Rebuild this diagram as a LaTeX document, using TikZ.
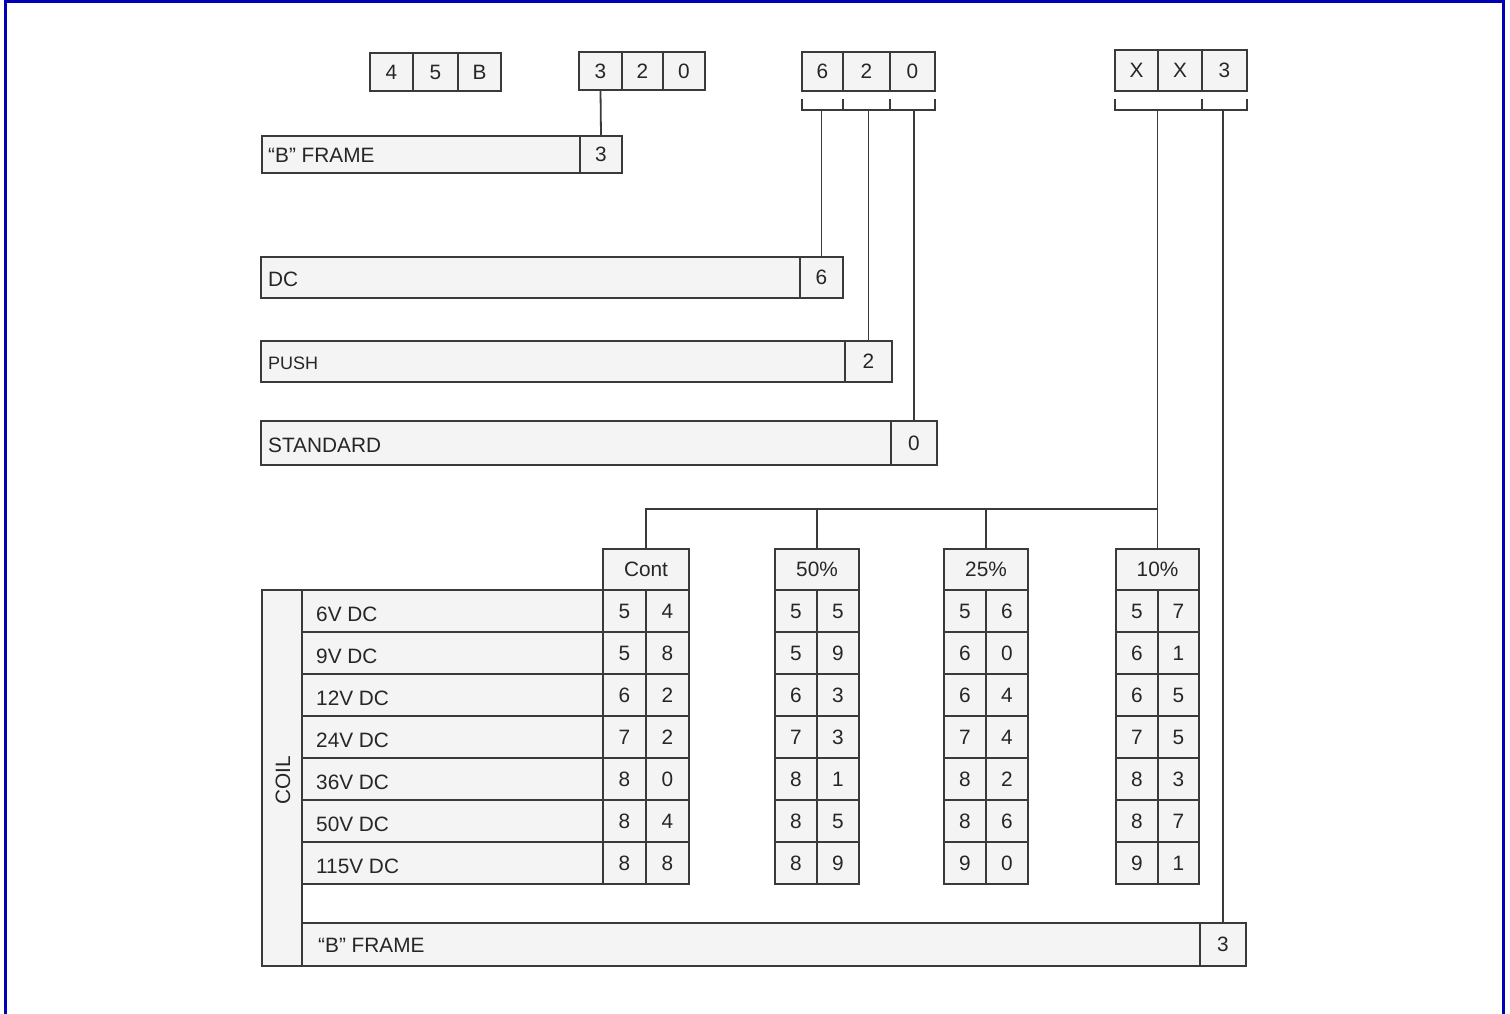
\documentclass[tikz,border=0pt]{standalone}
\usepackage{fontspec}
\setmainfont{Liberation Sans}
\usetikzlibrary{calc}
\definecolor{ink}{HTML}{3A3A3A}
\definecolor{txt}{HTML}{262626}
\definecolor{paper}{HTML}{F4F4F4}
\definecolor{frameblue}{HTML}{0000B4}
\newcommand\mkbox[6]{\node[cell, minimum width={(#4)-(#2)}, minimum height={(#5)-(#3)}] (#1) at ({((#2)+(#4))/2},{((#3)+(#5))/2}) {#6};}
\tikzset{
  cell/.style={draw=ink, fill=paper, line width=1.8pt, inner sep=0pt, outer sep=0pt, text=txt, anchor=center},
  conn/.style={draw=ink, line width=1.8pt},
  lbl/.style={text=txt, inner sep=0pt, anchor=west},
}
\begin{document}
\begin{tikzpicture}[x=1pt, y=-1pt, font=\fontsize{20.8}{24}\selectfont]
\useasboundingbox (0,0) rectangle (1510,1014);
\draw[frameblue, line width=3pt] (5.3,1014) -- (5.3,1.2) -- (1503.3,1.2) -- (1503.3,1014);

% top code boxes
\mkbox{k1}{370}{53}{413}{91}{4}
\mkbox{k2}{413}{53}{458}{91}{5}
\mkbox{k3}{458}{53}{501}{91}{B}
\mkbox{m1}{579}{52}{622}{90}{3}
\mkbox{m2}{622}{52}{663}{90}{2}
\mkbox{m3}{663}{52}{705}{90}{0}
\mkbox{p1}{802}{52}{843}{91}{6}
\mkbox{p2}{843}{52}{890}{91}{2}
\mkbox{p3}{890}{52}{935}{91}{0}
\mkbox{q1}{1115}{50}{1158}{91}{X}
\mkbox{q2}{1158}{50}{1202}{91}{X}
\mkbox{q3}{1202}{50}{1247}{91}{3}

% "B" frame (top)
\mkbox{f1}{262}{136}{580}{173}{}
\mkbox{f1v}{580}{136}{622}{173}{3}
\node[lbl] (f1t) at ($(f1.west)+(6,1)$) {“B” FRAME};
\draw[conn] (m1.south) -- (f1v.north);

% DC / PUSH / STANDARD
\mkbox{dc}{261}{257}{800}{298}{}
\mkbox{dcv}{800}{257}{843}{298}{6}
\node[lbl] (dct) at ($(dc.west)+(7,2)$) {DC};
\mkbox{push}{261}{341}{845}{382}{}
\mkbox{pushv}{845}{341}{892}{382}{2}
\node[lbl, font=\fontsize{18}{20}\selectfont] (pusht) at ($(push.west)+(7,2)$) {PUSH};
\mkbox{std}{261}{421}{891}{465}{}
\mkbox{stdv}{891}{421}{937}{465}{0}
\node[lbl] (stdt) at ($(std.west)+(7,2)$) {STANDARD};

% bracket under 6 2 0
\coordinate (pb) at ($(p1.south west)+(0,19)$);
\draw[conn] ($(p1.south west)+(0,8)$) -- (pb) -- ($(p3.south east)+(0,19)$) -- ($(p3.south east)+(0,8)$);
\draw[conn] ($(p2.south west)+(0,8)$) -- ++(0,11);
\draw[conn] ($(p3.south west)+(0,8)$) -- ++(0,11);
\draw[conn] (dcv.north) -- (dcv.north |- pb);
\draw[conn] (pushv.north) -- (pushv.north |- pb);
\draw[conn] (stdv.north) -- (stdv.north |- pb);

% bracket under X X 3
\coordinate (xb) at ($(q1.south west)+(0,19)$);
\draw[conn] ($(q1.south west)+(0,8)$) -- (xb) -- ($(q3.south east)+(0,19)$) -- ($(q3.south east)+(0,8)$);
\draw[conn] ($(q3.south west)+(0,8)$) -- ++(0,11);

% duty tables
\foreach \nm/\xl/\xm/\xr/\hd/\vals in {
  tc/603/646/689/Cont/{5/4,5/8,6/2,7/2,8/0,8/4,8/8},
  tf/775/817/859/50\%/{5/5,5/9,6/3,7/3,8/1,8/5,8/9},
  tq/944/986/1028/25\%/{5/6,6/0,6/4,7/4,8/2,8/6,9/0},
  tt/1116/1158/1199/10\%/{5/7,6/1,6/5,7/5,8/3,8/7,9/1}} {
  \mkbox{\nm}{\xl}{549}{\xr}{590}{\hd}
  \foreach \a/\b [count=\r from 0] in \vals {
    \mkbox{\nm a\r}{\xl}{590+42*\r}{\xm}{632+42*\r}{\a}
    \mkbox{\nm b\r}{\xm}{590+42*\r}{\xr}{632+42*\r}{\b}
  }
}
\coordinate (hub) at ($(tt.north)+(0,-40)$);
\draw[conn] (hub |- xb) -- (hub);
\draw[conn] (tc.north) |- (hub);
\draw[conn] (tf.north) -- (tf.north |- hub);
\draw[conn] (tq.north) -- (tq.north |- hub);
\draw[conn] (tt.north) -- (hub);

% coil rows
\mkbox{coil}{262}{590}{302}{966}{}
\node[rotate=90, text=txt, inner sep=0pt] (coilt) at ($(coil.center)+(1,2)$) {COIL};
\foreach \lab [count=\r from 0] in {6V DC,9V DC,12V DC,24V DC,36V DC,50V DC,115V DC} {
  \mkbox{row\r}{302}{590+42*\r}{603}{632+42*\r}{}
  \node[lbl] (rowt\r) at ($(row\r.west)+(14,3)$) {\lab};
}

% "B" frame (bottom)
\mkbox{fb}{302}{923}{1200}{966}{}
\mkbox{fbv}{1200}{923}{1246}{966}{3}
\node[lbl] (fbt) at ($(fb.west)+(16,1)$) {“B” FRAME};
\draw[conn] (fbv.north) -- (fbv.north |- xb);
\end{tikzpicture}
\end{document}
